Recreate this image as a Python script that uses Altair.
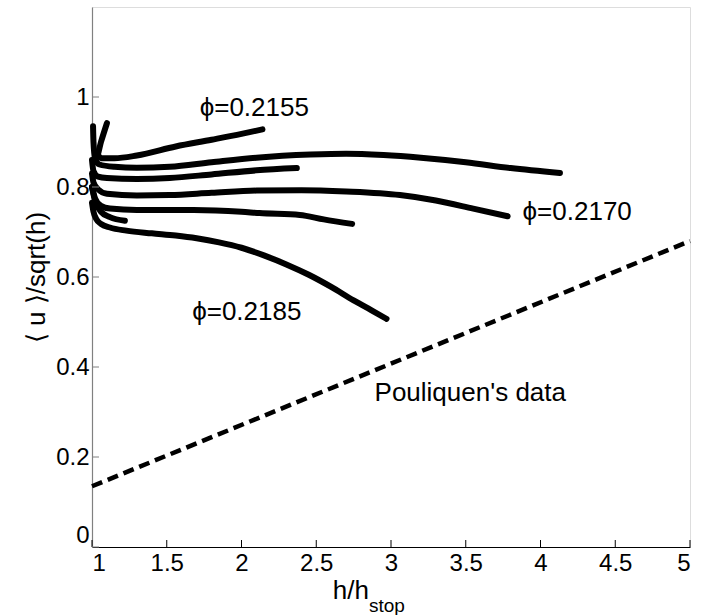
import altair as alt
import pandas as pd

# ---- curve data (h/h_stop, <u>/sqrt(h)) ----
A_x = [1.10, 1.06, 1.035, 1.06, 1.15, 1.30, 1.56, 1.80, 2.00, 2.14]
A_y = [0.942, 0.90, 0.872, 0.864, 0.864, 0.870, 0.890, 0.905, 0.918, 0.928]

B_x = [1.007, 1.01, 1.02, 1.05, 1.15, 1.30, 1.52, 1.80, 2.10, 2.46, 2.70, 2.95, 3.20, 3.50, 3.80, 4.13]
B_y = [0.935, 0.90, 0.865, 0.850, 0.845, 0.843, 0.845, 0.855, 0.865, 0.872, 0.874, 0.871, 0.865, 0.855, 0.842, 0.831]

C_x = [1.00, 1.01, 1.04, 1.10, 1.30, 1.52, 1.80, 2.10, 2.37]
C_y = [0.860, 0.835, 0.823, 0.820, 0.818, 0.820, 0.828, 0.837, 0.842]

D_x = [1.00, 1.01, 1.04, 1.10, 1.30, 1.52, 1.80, 2.10, 2.40, 2.70, 3.06, 3.30, 3.55, 3.78]
D_y = [0.830, 0.810, 0.795, 0.785, 0.781, 0.782, 0.787, 0.792, 0.793, 0.790, 0.782, 0.770, 0.752, 0.735]

E_x = [1.00, 1.02, 1.06, 1.12, 1.30, 1.52, 1.68, 2.00, 2.12, 2.39, 2.55, 2.74]
E_y = [0.800, 0.775, 0.758, 0.752, 0.749, 0.749, 0.749, 0.745, 0.742, 0.738, 0.728, 0.718]

G_x = [1.00, 1.02, 1.06, 1.12, 1.22]
G_y = [0.800, 0.770, 0.745, 0.733, 0.725]

H_x = [1.00, 1.01, 1.03, 1.06, 1.12, 1.23, 1.40, 1.56, 1.70, 1.85, 2.00, 2.15, 2.30, 2.45, 2.60, 2.75, 2.87, 2.97]
H_y = [0.765, 0.745, 0.728, 0.718, 0.710, 0.703, 0.697, 0.692, 0.686, 0.677, 0.665, 0.648, 0.628, 0.605, 0.578, 0.548, 0.526, 0.507]

# Pouliquen's data (dashed)
P_x = [1.0, 5.0]
P_y = [0.135, 0.68]

# annotations
ann_text = ["ϕ=0.2155", "ϕ=0.2170", "ϕ=0.2185", "Pouliquen's data"]
ann_x = [1.72, 3.88, 1.67, 2.89]
ann_y = [0.975, 0.745, 0.522, 0.342]

x_ticks = [1, 1.5, 2, 2.5, 3, 3.5, 4, 4.5, 5]
y_ticks = [0, 0.2, 0.4, 0.6, 0.8, 1]

curves = {"A": (A_x, A_y), "B": (B_x, B_y), "C": (C_x, C_y), "D": (D_x, D_y),
          "E": (E_x, E_y), "G": (G_x, G_y), "H": (H_x, H_y)}
rows = []
for name, (xs_, ys_) in curves.items():
    for i, (xv, yv) in enumerate(zip(xs_, ys_)):
        rows.append({"curve": name, "i": i, "x": xv, "y": yv})
df = pd.DataFrame(rows)
dfp = pd.DataFrame({"x": P_x, "y": P_y, "i": list(range(len(P_x)))})
dfa = pd.DataFrame({"t": ann_text, "x": ann_x, "y": ann_y})
dfx = pd.DataFrame({"v": x_ticks})
dfy = pd.DataFrame({"v": y_ticks})

W, H = 598, 540
FONT = "Liberation Sans"

xs = alt.Scale(domain=[1, 5], nice=False, zero=False)
ys = alt.Scale(domain=[0, 1.2], nice=False, zero=False)

xax = alt.Axis(values=x_ticks, format="~g", grid=False, tickSize=0, domainColor="#000000",
               domainWidth=1, labelFont=FONT, labelFontSize=24, labelColor="#000000",
               labelPadding=4, title=None)
yax = alt.Axis(values=y_ticks, format="~g", grid=False, tickSize=0, domainColor="#808080",
               domainWidth=1.2, labelFont=FONT, labelFontSize=24, labelColor="#000000",
               labelPadding=3, labelFlush=True, title="⟨ u ⟩/sqrt(h)", titleFont=FONT,
               titleFontSize=26, titleFontWeight="normal", titleColor="#000000",
               titlePadding=6)

lines = alt.Chart(df).mark_line(color="black", strokeWidth=6, strokeCap="round",
                                strokeJoin="round", interpolate="monotone").encode(
    x=alt.X("x:Q", scale=xs, axis=xax),
    y=alt.Y("y:Q", scale=ys, axis=yax),
    detail="curve:N",
    order="i:Q",
)

dashed = alt.Chart(dfp).mark_line(color="black", strokeWidth=4.5, strokeDash=[11, 6]).encode(
    x=alt.X("x:Q", scale=xs), y=alt.Y("y:Q", scale=ys), order="i:Q")

ann = alt.Chart(dfa).mark_text(font=FONT, fontSize=26, align="left", baseline="middle",
                               color="black").encode(
    x=alt.X("x:Q", scale=xs), y=alt.Y("y:Q", scale=ys), text="t:N")

xt = alt.Chart(dfx).mark_rule(color="#000000", strokeWidth=1).encode(
    x=alt.X("v:Q", scale=xs), y=alt.value(H), y2=alt.value(H - 7))
yt = alt.Chart(dfy).mark_rule(color="#808080", strokeWidth=1).encode(
    y=alt.Y("v:Q", scale=ys), x=alt.value(0), x2=alt.value(7))

xtitle1 = alt.Chart(pd.DataFrame({"t": ["h/h"]})).mark_text(
    font=FONT, fontSize=26, align="right", baseline="alphabetic", color="black").encode(
    x=alt.value(277), y=alt.value(592), text="t:N")
xtitle2 = alt.Chart(pd.DataFrame({"t": ["stop"]})).mark_text(
    font=FONT, fontSize=19, align="left", baseline="alphabetic", color="black").encode(
    x=alt.value(277), y=alt.value(605), text="t:N")

chart = alt.layer(lines, dashed, ann, xt, yt, xtitle1, xtitle2).properties(
    width=W, height=H,
    autosize=alt.AutoSizeParams(type="none"),
    padding={"left": 92, "top": 7, "right": 14, "bottom": 68},
).configure_view(stroke=None).configure(background="white")

chart.save("out.html", embed_options={"renderer": "svg", "actions": False})
